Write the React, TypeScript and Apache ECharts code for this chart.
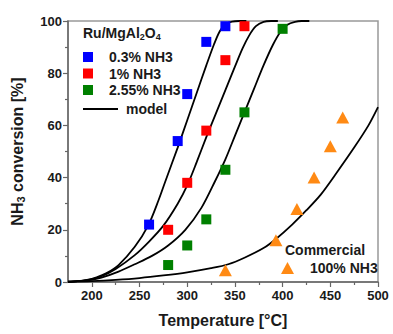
import React, { useEffect, useRef } from "react";
import * as echarts from "echarts";

const xTicks = [200, 250, 300, 350, 400, 450, 500];
const xMinorTicks = [225, 275, 325, 375, 425, 475];

const blueData = [[260, 22], [290, 54], [300, 72], [320, 92], [340, 98]];
const redData = [[280, 20], [300, 38], [320, 58], [340, 85], [360, 98]];
const greenData = [[280, 6.5], [300, 14], [320, 24], [340, 43], [360, 65], [400, 97]];
const commercialData = [[340, 4.5], [393, 16], [415, 28], [433, 40], [450, 52], [463, 63]];

const model03 = [[175, 0.1], [185, 0.3], [195, 0.8], [205, 1.8], [215, 3.3], [228, 6.5], [245, 13.5], [259, 21.6], [270, 31.4], [277, 38.5], [290, 51.5], [300, 62], [310, 72.5], [320, 83], [328, 91], [334, 96], [340, 98.8], [347, 99.8], [355, 100], [362, 100]];
const model1 = [[175, 0.1], [185, 0.3], [195, 0.7], [210, 2.2], [225, 5], [245, 10.3], [260, 15.5], [275, 21.6], [290, 30], [300, 37], [310, 46], [320, 55.5], [330, 64.5], [340, 73.5], [350, 82.5], [358, 89.5], [365, 94.5], [372, 98], [380, 99.7], [388, 100], [395, 100]];
const model255 = [[175, 0.1], [185, 0.3], [195, 0.6], [210, 1.7], [228, 4], [245, 6.8], [263, 10], [280, 14], [298, 20], [315, 28.5], [329, 38.5], [340, 47], [350, 56], [360, 65], [370, 74], [380, 83], [390, 91], [398, 96], [405, 98.6], [413, 99.7], [420, 100], [428, 100]];
const modelCommercial = [[175, 0], [200, 0.3], [225, 0.8], [250, 1.5], [275, 2.5], [300, 3.7], [325, 5.3], [343, 6.8], [360, 9.3], [380, 13], [393, 16.5], [410, 22], [425, 27.5], [440, 33.5], [455, 41], [475, 51.5], [490, 60], [500, 67]];

const FONT = "'Liberation Sans', Arial, sans-serif";
const TXT = "#1a1a1a";
const AX = "#666";

function modelSeries(data: number[][]) {
  return {
    name: "model",
    type: "line",
    data,
    smooth: 0.3,
    symbol: "none",
    showSymbol: false,
    color: "#000",
    lineStyle: { color: "#000", width: 1.8 },
    z: 2,
  };
}

function scatterSeries(name: string, data: number[][], color: string, symbol = "rect", size: any = 10) {
  return {
    name,
    type: "scatter",
    data,
    symbol,
    symbolSize: size,
    itemStyle: { color, opacity: 1 },
    z: 3,
  };
}

export default function App() {
  const ref = useRef<HTMLDivElement>(null);
  useEffect(() => {
    const chart = echarts.init(ref.current!, null, { renderer: "svg" });
    const legendText = { fontFamily: FONT, fontSize: 14, fontWeight: "bold", color: TXT, lineHeight: 16 };
    chart.setOption({
      animation: false,
      textStyle: { fontFamily: FONT },
      grid: { left: 68, right: 15, top: 21, bottom: 52, show: true, borderColor: "#999", borderWidth: 1.5, containLabel: false },
      xAxis: [
        {
          type: "value", min: 175, max: 500,
          axisLine: { show: true, lineStyle: { color: AX, width: 1.5 } },
          axisTick: { show: true, customValues: xTicks, length: 5, lineStyle: { color: AX, width: 1.2 } },
          axisLabel: { customValues: xTicks, fontSize: 13, fontWeight: "bold", color: TXT, margin: 7, fontFamily: FONT },
          splitLine: { show: false },
          name: "Temperature [°C]", nameLocation: "middle", nameGap: 30,
          nameTextStyle: { fontSize: 16, fontWeight: "bold", color: TXT, fontFamily: FONT },
        },
        {
          type: "value", min: 175, max: 500, position: "bottom",
          axisLine: { show: false },
          axisTick: { show: true, customValues: xMinorTicks, length: 3, lineStyle: { color: AX, width: 1.2 } },
          axisLabel: { show: false },
          splitLine: { show: false },
        },
      ],
      yAxis: {
        type: "value", min: 0, max: 100, interval: 20,
        axisLine: { show: true, lineStyle: { color: AX, width: 1.5 } },
        axisTick: { show: true, length: 5, lineStyle: { color: AX, width: 1.2 } },
        minorTick: { show: true, splitNumber: 2, length: 3, lineStyle: { color: AX, width: 1.2 } },
        axisLabel: { fontSize: 13, fontWeight: "bold", color: TXT, margin: 6, fontFamily: FONT },
        splitLine: { show: false },
        name: "NH{s|3} conversion [%]", nameLocation: "middle", nameGap: 42, nameRotate: 90,
        nameTextStyle: {
          fontSize: 16, fontWeight: "bold", color: TXT, fontFamily: FONT, lineHeight: 18,
          rich: { s: { fontSize: 11, fontWeight: "bold", color: TXT, fontFamily: FONT, verticalAlign: "bottom", lineHeight: 11 } },
        },
      },
      legend: [
        {
          data: ["0.3% NH3", "1% NH3", "2.55% NH3"], orient: "vertical", left: 83, top: 49, padding: 0,
          itemWidth: 10, itemHeight: 10, itemGap: 0.5, icon: "rect",
          textStyle: { ...legendText, padding: [0, 0, 0, 11] },
        },
        {
          data: [{ name: "model", icon: "rect" }], orient: "vertical", left: 83, top: 101, padding: 0,
          itemWidth: 35, itemHeight: 2, itemStyle: { color: "#000" },
          textStyle: { ...legendText, padding: [0, 0, 0, 3] },
        },
        {
          data: ["100% NH3"], orient: "vertical", left: 281, top: 260, padding: 0,
          itemWidth: 13, itemHeight: 12, icon: "triangle",
          textStyle: { ...legendText, padding: [0, 0, 0, 11] },
        },
      ],
      graphic: [
        {
          type: "text", left: 83, top: 25,
          style: {
            text: "Ru/MgAl{s|2}O{s|4}", fontSize: 14, fontWeight: "bold", fill: TXT, fontFamily: FONT, lineHeight: 16,
            rich: { s: { fontSize: 9, fontWeight: "bold", fill: TXT, fontFamily: FONT, verticalAlign: "bottom", lineHeight: 9 } },
          },
        },
        {
          type: "text", left: 285, top: 243,
          style: { text: "Commercial", fontSize: 14, fontWeight: "bold", fill: TXT, fontFamily: FONT },
        },
      ],
      series: [
        modelSeries(model03),
        modelSeries(model1),
        modelSeries(model255),
        modelSeries(modelCommercial),
        scatterSeries("0.3% NH3", blueData, "#0000ff"),
        scatterSeries("1% NH3", redData, "#ff0000"),
        scatterSeries("2.55% NH3", greenData, "#008000"),
        scatterSeries("100% NH3", commercialData, "#ff8a14", "triangle", [13, 12]),
      ],
    });
    return () => chart.dispose();
  }, []);
  return <div ref={ref} style={{ position: "absolute", left: 0, top: 0, width: 393, height: 334 }} />;
}
